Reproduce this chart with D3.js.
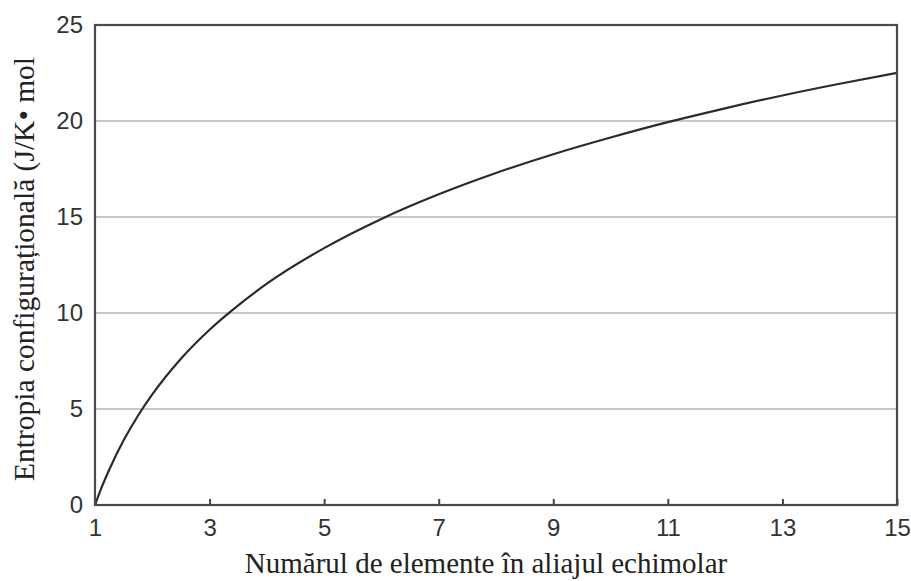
<!DOCTYPE html>
<html>
<head>
<meta charset="utf-8">
<script src="https://cdn.jsdelivr.net/npm/d3@7/dist/d3.min.js"></script>
<style>
  html, body { margin: 0; padding: 0; background: #fff; }
  svg { display: block; }
</style>
</head>
<body>
<svg id="chart" width="911" height="581"></svg>
<script>
// Number of elements in an equimolar alloy and its configurational entropy (J/K·mol)
const elementCounts = [1, 1.1, 1.25, 1.5, 1.75, 2, 2.5, 3, 3.5, 4, 5, 6, 7, 8, 9, 10, 11, 12, 13, 14, 15];
const entropyValues = [0, 0.8, 1.85, 3.37, 4.65, 5.76, 7.62, 9.13, 10.4, 11.53, 13.38, 14.9, 16.18, 17.29, 18.27, 19.14, 19.94, 20.66, 21.33, 21.94, 22.51];
const xTickValues = [1, 3, 5, 7, 9, 11, 13, 15];
const yTickValues = [0, 5, 10, 15, 20, 25];
const xLabel = "Numărul de elemente în aliajul echimolar";
const yLabel = "Entropia configurațională (J/K• mol";

const svg = d3.select("#chart");
const margin = { left: 95, right: 14, top: 25, bottom: 76 };
const W = 911, H = 581;

const x = d3.scaleLinear().domain([1, 15]).range([margin.left, W - margin.right]);
const y = d3.scaleLinear().domain([0, 25]).range([H - margin.bottom, margin.top]);

const tickFont = "Liberation Sans, Arial, sans-serif";
const titleFont = "Liberation Serif, Times New Roman, serif";

// horizontal gridlines
svg.append("g").selectAll("line")
  .data(yTickValues.filter(v => v > 0 && v < 25))
  .join("line")
  .attr("x1", x(1)).attr("x2", x(15))
  .attr("y1", d => y(d)).attr("y2", d => y(d))
  .attr("stroke", "#b4b4b4").attr("stroke-width", 1.3);

// x axis: labels below, short ticks pointing inward
const xAxis = d3.axisBottom(x).tickValues(xTickValues).tickSize(-6).tickPadding(14).tickFormat(d3.format("d"));
const gx = svg.append("g").attr("transform", `translate(0,${y(0)})`).call(xAxis);
gx.select(".domain").remove();
gx.selectAll(".tick line").attr("stroke", "#444").attr("stroke-width", 2);
gx.selectAll(".tick text")
  .attr("font-family", tickFont)
  .attr("font-size", 24).attr("fill", "#333");

// y axis: labels only
const yAxis = d3.axisLeft(y).tickValues(yTickValues).tickSize(0).tickPadding(12).tickFormat(d3.format("d"));
const gy = svg.append("g").attr("transform", `translate(${x(1)},0)`).call(yAxis);
gy.select(".domain").remove();
gy.selectAll(".tick text")
  .attr("font-family", tickFont)
  .attr("font-size", 24).attr("fill", "#333");

// entropy curve
const line = d3.line()
  .x((d, i) => x(elementCounts[i]))
  .y(d => y(d))
  .curve(d3.curveMonotoneX);
svg.append("path")
  .datum(entropyValues)
  .attr("d", line)
  .attr("fill", "none")
  .attr("stroke", "#2b2b2b")
  .attr("stroke-width", 2.2);

// plot frame
svg.append("rect")
  .attr("x", x(1)).attr("y", y(25))
  .attr("width", x(15) - x(1)).attr("height", y(0) - y(25))
  .attr("fill", "none").attr("stroke", "#4a4a4a").attr("stroke-width", 2.2);

// axis titles
svg.append("text")
  .attr("x", 486).attr("y", 573)
  .attr("text-anchor", "middle")
  .attr("font-family", titleFont)
  .attr("font-size", 29).attr("fill", "#222")
  .text(xLabel);

svg.append("text")
  .attr("transform", `translate(34,${269}) rotate(-90)`)
  .attr("text-anchor", "middle")
  .attr("font-family", titleFont)
  .attr("font-size", 29.5).attr("fill", "#222")
  .text(yLabel);
</script>
</body>
</html>
